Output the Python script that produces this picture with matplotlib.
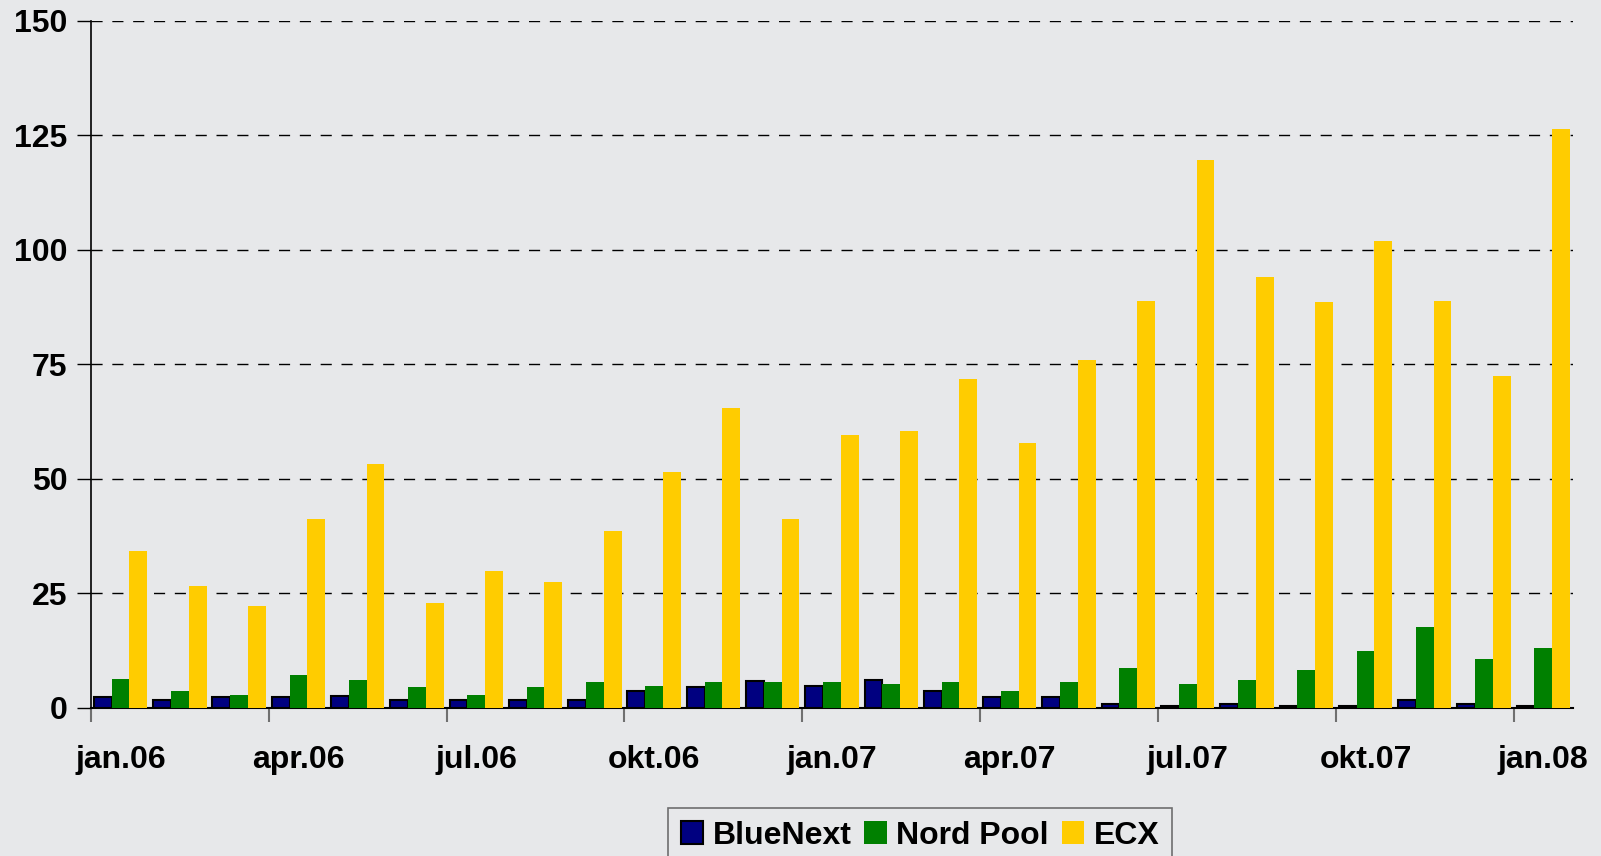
import numpy as np
import matplotlib.pyplot as plt

# Data: monthly volumes, jan.06 - jan.08
months = ['jan.06', 'feb.06', 'mar.06', 'apr.06', 'mai.06', 'jun.06', 'jul.06', 'aug.06',
          'sep.06', 'okt.06', 'nov.06', 'des.06', 'jan.07', 'feb.07', 'mar.07', 'apr.07',
          'mai.07', 'jun.07', 'jul.07', 'aug.07', 'sep.07', 'okt.07', 'nov.07', 'des.07',
          'jan.08']
bluenext = [2.3, 1.8, 2.3, 2.3, 2.7, 1.8, 1.8, 1.8, 1.8, 3.6, 4.5, 5.8, 4.9,
            6.2, 3.6, 2.3, 2.3, 0.95, 0.5, 0.95, 0.5, 0.5, 1.8, 0.95, 0.5]
nordpool = [6.4, 3.6, 2.9, 7.1, 6.2, 4.5, 2.9, 4.5, 5.6, 4.7, 5.6, 5.6, 5.6,
            5.3, 5.6, 3.8, 5.6, 8.8, 5.3, 6.2, 8.2, 12.4, 17.6, 10.8, 13.2]
ecx = [34.3, 26.6, 22.2, 41.3, 53.3, 22.9, 29.9, 27.5, 38.7, 51.5, 65.5, 41.3, 59.5,
       60.4, 71.8, 57.9, 76.0, 88.9, 119.5, 94.0, 88.5, 101.9, 88.7, 72.4, 126.4]
series_names = ['BlueNext', 'Nord Pool', 'ECX']
yticks = [0, 25, 50, 75, 100, 125, 150]

bg = '#e7e8ea'
plt.rcParams['font.family'] = ['Liberation Sans', 'DejaVu Sans']
plt.rcParams['font.weight'] = 'bold'

fig = plt.figure(figsize=(16.01, 8.56), dpi=100, facecolor=bg)
ax = fig.add_axes([0.0568, 0.1729, 0.9257, 0.8031], facecolor=bg)

x = np.arange(len(months))
w = 0.3
ax.bar(x - w, bluenext, w, color='#000080', edgecolor='black', linewidth=1.5,
       label=series_names[0], zorder=3)
ax.bar(x, nordpool, w, color='#008000', linewidth=0, label=series_names[1], zorder=3)
ax.bar(x + w, ecx, w, color='#ffcc00', linewidth=0, label=series_names[2], zorder=3)

ax.set_xlim(-0.5, len(months) - 0.5)
ax.set_ylim(0, 150)
ax.set_yticks(yticks)
ax.yaxis.grid(True, color='black', linestyle=(0, (8, 7)), linewidth=1, zorder=0)
ax.tick_params(axis='y', direction='out', length=10, width=1, pad=7, labelsize=23)

# major ticks at quarter boundaries, labels centred on the month
ax.set_xticks(x[::3] - 0.5)
ax.set_xticklabels([])
ax.tick_params(axis='x', which='major', direction='out', length=10, width=1.5, color='#707070')
ax.set_xticks(x[::3], minor=True)
ax.set_xticklabels(months[::3], minor=True)
ax.tick_params(axis='x', which='minor', length=0, pad=27, labelsize=23)

for s in ['top', 'right']:
    ax.spines[s].set_visible(False)
ax.spines['left'].set_linewidth(1.2)
ax.spines['bottom'].set_linewidth(1.5)

leg = fig.legend(loc='upper left', bbox_to_anchor=(668 / 1601, 1 - 808 / 856), ncol=3,
                 fontsize=23, frameon=True, fancybox=False, handlelength=0.7,
                 handleheight=0.7, handletextpad=0.3, columnspacing=0.4,
                 borderpad=0.4, borderaxespad=0)
leg.get_frame().set_facecolor(bg)
leg.get_frame().set_edgecolor('#505050')
leg.get_frame().set_linewidth(1.2)

fig.savefig('out.png', dpi=100, facecolor=bg)
